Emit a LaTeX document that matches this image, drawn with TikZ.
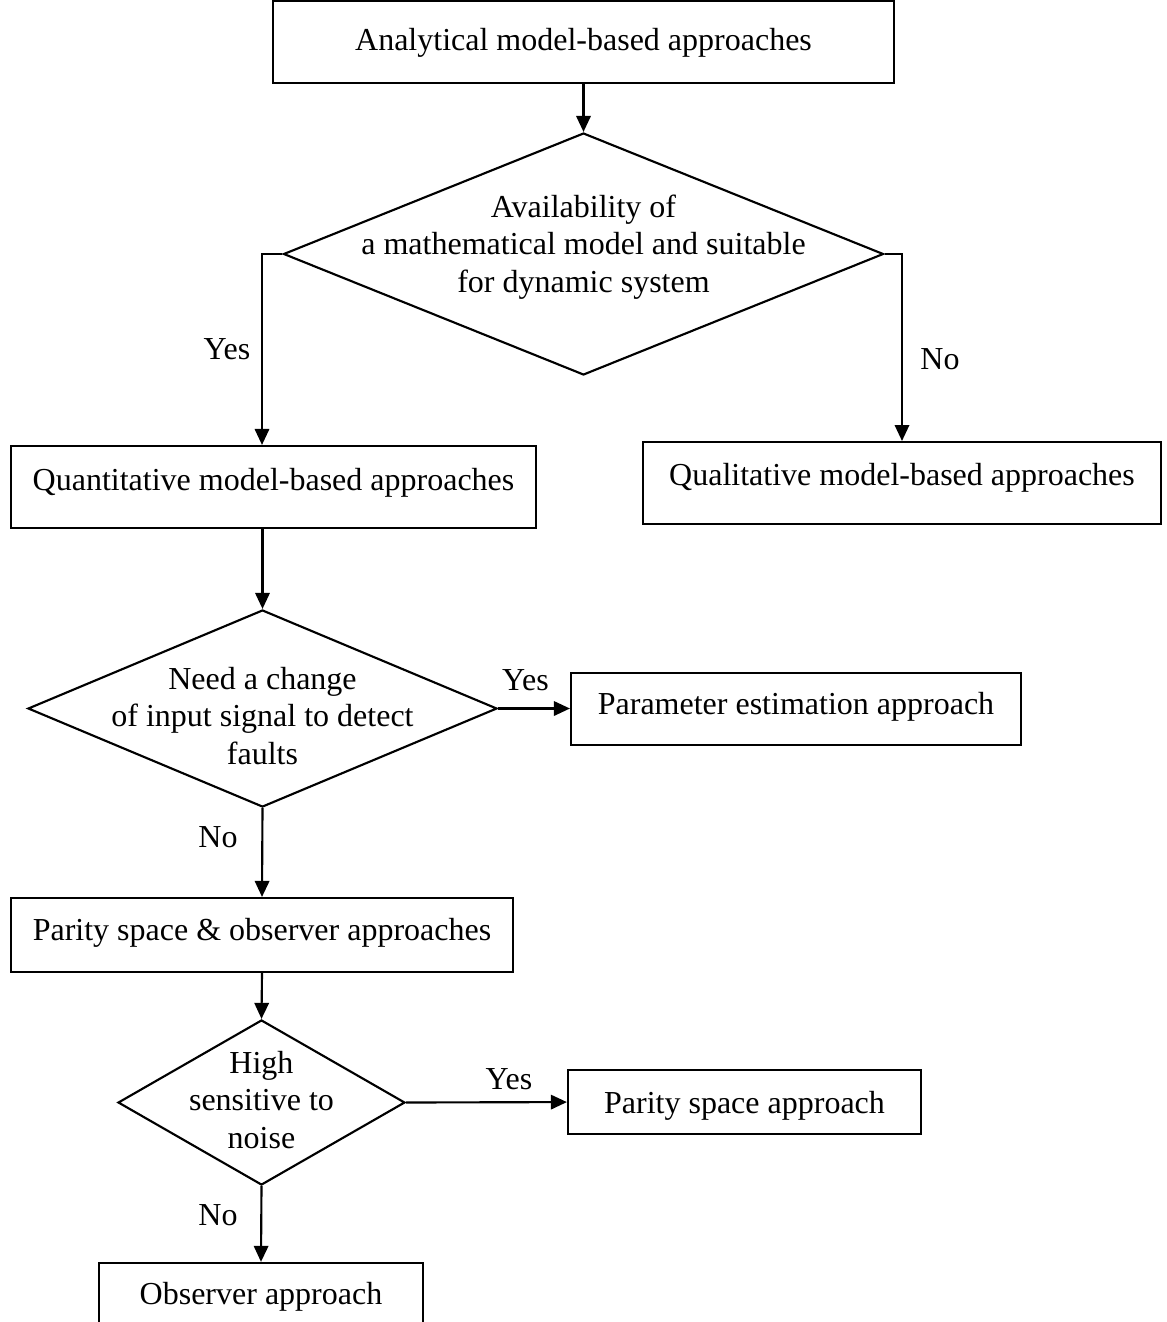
\documentclass[tikz,border=0pt]{standalone}
\usepackage{fontspec}
\setmainfont{Liberation Serif}
\usetikzlibrary{positioning, arrows.meta, shapes.geometric}

\begin{document}
\begin{tikzpicture}[x=0.375pt, y=-0.375pt,
        every node/.style={font=\fontsize{12}{14}\selectfont},
        blk/.style={draw, rectangle, inner sep=0pt, anchor=base, line width=0.8pt},
        dec/.style={draw, diamond, inner sep=0pt, line width=0.8pt},
        arr/.style={-{Triangle[length=6pt, width=5.4pt]}, line width=0.8pt}]
      \useasboundingbox (0,0) rectangle (1167,1322);

      % boxes
      \node[blk, minimum width=232.9pt, text height=18.4pt, text depth=12.4pt] (ana) at (583.5,50) {Analytical model-based approaches};
      \node[blk, minimum width=196.9pt, text height=16.5pt, text depth=14.25pt] (quant) at (273.5,490) {Quantitative model-based approaches};
      \node[blk, minimum width=194.25pt, text height=16.1pt, text depth=14.6pt] (qual) at (902,485) {Qualitative model-based approaches};
      \node[blk, minimum width=168.75pt, text height=15.4pt, text depth=11.6pt] (param) at (796,714) {Parameter estimation approach};
      \node[blk, minimum width=188.25pt, text height=15.75pt, text depth=12pt] (pobs) at (262,940) {Parity space \& observer approaches};
      \node[blk, minimum width=132.4pt, text height=16.1pt, text depth=7.9pt] (par) at (744.5,1113) {Parity space approach};
      \node[blk, minimum width=121.5pt, text height=15.4pt, text depth=15pt] (obs) at (261,1304) {Observer approach};

      % decisions
      \node[dec, minimum width=225pt, minimum height=90.75pt] (d1) at (583.5,254) {};
      \node[align=center] (t1) at (583.5,247) {Availability of\\a mathematical model and suitable\\for dynamic system};
      \node[dec, minimum width=175.9pt, minimum height=73.9pt] (d2) at (262.5,708.5) {};
      \node[align=center] (t2) at (262.5,716) {Need a change\\of input signal to detect\\faults};
      \node[dec, minimum width=107.6pt, minimum height=61.9pt] (d3) at (261.5,1102.5) {};
      \node[align=center] (t3) at (261.5,1100) {High\\sensitive to\\noise};

      \coordinate (yesL) at (262,254);

      \draw[arr] (ana) -- (d1.north);
      \draw[arr] (d1.west) -- (yesL) -- (yesL |- quant.north);
      \draw[arr] (d1.east) -| (qual.north);
      \draw[arr] (d2.north |- quant.south) -- (d2.north);
      \draw[arr] (d2.east) -- (d2.east -| param.west);
      \draw[arr] (d2.south) -- (pobs.north);
      \draw[arr] (pobs.south) -- (d3.north);
      \draw[arr] (d3.east) -- (par.west);
      \draw[arr] (d3.south) -- (obs.north);

      % labels
      \node (y1) at (227,349) {Yes};
      \node (n1) at (940,359) {No};
      \node (y2) at (525.5,680.5) {Yes};
      \node (n2) at (218,837) {No};
      \node (y3) at (509,1079) {Yes};
      \node (n3) at (218,1215) {No};
    \end{tikzpicture}
\end{document}
